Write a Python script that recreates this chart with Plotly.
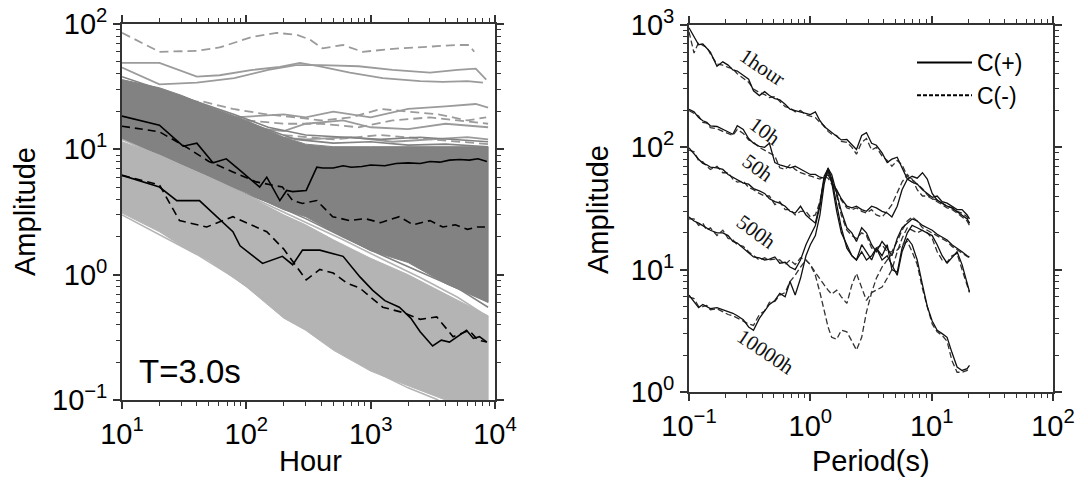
import plotly.graph_objects as go
import math

# ---------------- LEFT PANEL DATA (Hour vs Amplitude, T=3.0s) ----------------
band_hours = [10, 20, 30, 50, 100, 200, 300, 500, 1000, 2000, 4000, 8800]
dark_upper = [36, 31, 27, 22, 17, 12.5, 11, 10.5, 10.5, 10.5, 10.5, 10.5]
dark_lower = [12, 9, 7.3, 5.8, 4.5, 3.3, 2.9, 2.2, 1.55, 1.25, 0.85, 0.6]
light_upper = [11.5, 9, 7.5, 6, 4.3, 3.0, 2.5, 1.9, 1.35, 1.0, 0.7, 0.47]
light_lower = [3.1, 2.2, 1.7, 1.3, 0.8, 0.45, 0.36, 0.25, 0.17, 0.13, 0.1, 0.08]

dark_tex = [
    ([10, 20, 40, 80, 150, 300, 600, 1200, 2500, 5000, 8800], [38, 30, 24, 19, 15, 13, 12.5, 12, 12.5, 12, 11.5]),
    ([10, 25, 60, 120, 250, 500, 1000, 2000, 4000, 8800], [33, 26, 19, 15.5, 12, 11.2, 11.5, 10.8, 11, 10.5]),
    ([10, 30, 70, 150, 300, 600, 1200, 2500, 5000, 8800], [11, 7.0, 5.0, 3.8, 2.8, 2.0, 1.45, 1.05, 0.78, 0.55]),
]
light_tex = [
    ([10, 25, 60, 150, 300, 600, 1200, 2500, 5000, 8800], [12, 8, 5.5, 3.6, 2.6, 1.9, 1.35, 0.95, 0.66, 0.46]),
    ([10, 20, 40, 80, 150, 250, 400, 700, 1200, 2000, 3500], [3.0, 2.1, 1.45, 0.95, 0.6, 0.42, 0.3, 0.22, 0.16, 0.125, 0.1]),
    ([10, 18, 35, 70, 130, 230, 400], [3.3, 2.5, 1.8, 1.2, 0.75, 0.5, 0.36]),
]

sparse_solid = [
    ([10, 20, 40, 61, 112, 186, 270, 390, 680, 1250, 2500, 3800, 6000, 8000],
     [49, 49, 38, 39, 43, 45.5, 49, 46, 41, 37, 35, 34.5, 35, 34]),
    ([10, 20, 40, 80, 150, 250, 400, 800, 1500, 3000, 5000, 7000, 8500],
     [45, 33, 34, 37, 43, 47, 47, 46, 43, 41, 43, 44, 36]),
    ([10, 30, 80, 200, 300, 500, 1000, 2000, 4000, 7000, 8800],
     [30, 22, 18, 19, 18, 20, 18, 21, 22, 23, 21.5]),
    ([10, 30, 100, 200, 300, 600, 1000, 2000, 4000, 8800],
     [28, 20, 15, 14, 16, 17, 15, 14.5, 16, 15]),
    ([10, 40, 100, 300, 700, 1500, 3000, 6000, 8800],
     [26, 17, 13, 12, 12.5, 11.5, 12, 12.5, 12]),
]
sparse_dash = [
    ([10, 14, 20, 40, 61, 112, 175, 255, 325, 410, 600, 860, 1700, 3000, 4900, 6200, 6800],
     [85, 72, 60, 61, 65, 79, 85, 82, 75, 64, 68, 60, 64, 66, 68, 68, 60]),
    ([10, 15, 26, 45, 78, 146, 250, 400, 700, 1200, 2000, 3500, 6000, 8500],
     [32, 27, 24, 24, 21, 19, 18, 17, 18, 21, 20, 19, 17, 18]),
    ([100, 200, 400, 800, 1500, 3000, 5000, 8800], [17, 16, 16, 15, 17, 18, 17, 16]),
    ([200, 500, 1200, 3000, 8800], [13, 12, 13, 12, 11]),
]

blk1_solid_h = [10, 20, 31, 40, 54, 69, 89, 128, 146, 186, 211, 236, 303, 369, 412, 500, 600, 700, 850,
                1000, 1300, 1600, 2000, 2500, 3000, 3600, 4300, 5200, 6200, 7300, 8600]
blk1_solid_a = [18.4, 15.6, 10.6, 11.2, 7.8, 8.4, 6.8, 5.0, 6.0, 3.9, 4.7, 4.6, 4.7, 7.2, 7.1, 7.1, 7.4, 7.2, 7.3,
                7.5, 7.4, 7.7, 7.8, 7.7, 8.0, 7.9, 8.2, 8.3, 8.2, 8.4, 8.0]
blk1_dash_h = [10, 20, 33, 50, 78, 120, 195, 236, 283, 369, 495, 680, 900, 1200, 1700, 2200, 3000, 3800,
               4800, 6000, 7200, 8600]
blk1_dash_a = [15.3, 13.8, 10.4, 8.0, 6.6, 5.5, 5.0, 3.9, 3.7, 3.9, 2.9, 2.7, 2.8, 2.6, 2.9, 2.5, 2.7, 2.4,
               2.5, 2.3, 2.4, 2.4]
blk2_solid_h = [10, 20, 27.6, 42, 78, 89, 135, 195, 236, 283, 390, 600, 820, 1040, 1300, 1700, 2100, 2500,
                3150, 3700, 4300, 5200, 5900, 6700, 7500, 8600]
blk2_solid_a = [6.2, 5.0, 3.9, 3.9, 2.2, 1.7, 1.23, 1.4, 1.2, 1.57, 1.57, 1.4, 0.96, 0.75, 0.62, 0.55, 0.45,
                0.35, 0.27, 0.3, 0.29, 0.33, 0.36, 0.31, 0.32, 0.29]
blk2_dash_h = [10, 20, 29, 48, 78, 146, 200, 303, 390, 500, 640, 820, 1250, 1800, 2500, 3400, 4600, 5300,
               6200, 7300, 8600]
blk2_dash_a = [6.2, 5.2, 2.7, 2.4, 2.9, 2.2, 1.6, 0.91, 1.1, 1.03, 0.86, 0.78, 0.55, 0.5, 0.44, 0.46, 0.32,
               0.34, 0.36, 0.3, 0.29]

# ---------------- RIGHT PANEL DATA (Period vs Amplitude) ----------------
period = [0.10, 0.11, 0.12, 0.13, 0.14, 0.15,
          0.17, 0.19, 0.21, 0.23, 0.25,
          0.28, 0.31, 0.34, 0.38, 0.42,
          0.46, 0.51, 0.56, 0.62, 0.68,
          0.75, 0.83, 0.92, 1.0, 1.1,
          1.2, 1.3, 1.4, 1.5, 1.65,
          1.8, 2.0, 2.2, 2.4, 2.65,
          2.9, 3.2, 3.5, 3.9, 4.3,
          4.7, 5.2, 5.7, 6.3, 6.9,
          7.6, 8.4, 9.2, 10.1, 11.1,
          12.2, 13.4, 14.7, 16.2, 17.8,
          19.6, 20.5]

h1_plus = [950, 800, 690, 700, 640, 600,
           460, 500, 470, 430, 420,
           390, 360, 290, 265, 285,
           265, 250, 245, 225, 205,
           200, 195, 190, 185, 195,
           165, 148, 140, 132, 122,
           115, 116, 105, 96, 125,
           132, 108, 104, 90, 75,
           80, 83, 68, 55, 52,
           50, 45, 42, 39, 40,
           36, 35, 33, 31, 31,
           28, 26]
h1_minus = [880, 590, 720, 680, 660, 580,
            480, 470, 450, 440, 400,
            370, 340, 300, 280, 270,
            255, 260, 235, 215, 210,
            195, 200, 185, 180, 175,
            160, 150, 135, 128, 125,
            112, 110, 100, 88, 110,
            118, 95, 100, 85, 78,
            70, 78, 72, 58, 55,
            50, 46, 41, 38, 37,
            35, 33, 32, 30, 29,
            27, 24]
h10_plus = [205, 195, 175, 165, 160, 150,
            148, 140, 132, 128, 150,
            140, 118, 108, 102, 100,
            108, 75, 72, 70, 68,
            70, 66, 62, 60, 60,
            57, 56, 60, 52, 45,
            38, 33, 32, 33, 31,
            30, 33, 32, 30, 29,
            27, 33, 45, 55, 58,
            56, 62, 55, 42, 37,
            35, 33, 32, 30, 28,
            26, 24]
h10_minus = [200, 190, 180, 160, 158, 145,
             142, 135, 130, 125, 140,
             130, 115, 110, 100, 95,
             90, 85, 68, 66, 72,
             66, 62, 60, 58, 56,
             55, 58, 56, 50, 44,
             37, 32, 31, 32, 30,
             29, 31, 28, 27, 30,
             34, 42, 52, 60, 55,
             45, 40, 40, 38, 36,
             34, 32, 31, 29, 27,
             25, 23]
h50_plus = [99, 88, 80, 74, 72, 69,
            68, 66, 60, 57, 54,
            51, 50, 46, 44, 42,
            38, 36, 35, 33, 30,
            29, 33, 28, 26, 24,
            35, 58, 67, 60, 42,
            30, 22, 20, 17, 22,
            20, 16, 14, 17, 15,
            13, 18, 22, 24, 26,
            25, 23, 22, 21, 19.5,
            18.5, 17.5, 16, 15, 14,
            13, 12.7]
h50_minus = [95, 92, 78, 76, 70, 66,
             70, 62, 62, 55, 52,
             53, 47, 45, 42, 40,
             40, 34, 36, 31, 31,
             28, 30, 30, 27, 28,
             36, 55, 63, 57, 40,
             28, 21, 19, 18, 20,
             19, 15, 15, 16, 14,
             14, 17, 21, 25, 27,
             25, 22, 21, 20, 19,
             18, 17, 15.5, 14.5, 13.5,
             12.8, 12.5]
h500_plus = [27, 25, 24, 23, 22, 21,
             20, 20, 19, 17, 16.5,
             15, 13.7, 12.7, 12.5, 12.0,
             12.2, 12.7, 11.3, 11.5, 10.5,
             10, 12, 16, 19, 23,
             33, 55, 66, 52, 30,
             20, 16, 13, 12, 16,
             14, 12, 15, 13, 16,
             10, 9.5, 15, 20, 23,
             22, 21, 20, 19, 16,
             13, 11.3, 12.5, 14, 11,
             8, 6.6]
h500_minus = [26, 26, 23, 24, 21, 22,
              19, 21, 18, 17.5, 16,
              15.5, 14, 13, 12, 12.5,
              12, 12.2, 12, 11, 12,
              11, 12.5, 12, 11, 9.5,
              8.5, 7.5, 6.8, 6.3, 6.8,
              6.0, 5.3, 7.5, 9.3, 7.0,
              5.6, 6.5, 6.8, 7.2, 8.5,
              10, 14, 18, 22, 21,
              20, 21, 20, 18, 14,
              12, 11.5, 13, 13.5, 10,
              7.5, 6.5]
h10000_plus = [6.2, 5.5, 4.9, 5.2, 5.0, 4.8,
               4.9, 4.7, 4.5, 4.4, 4.2,
               3.9, 3.4, 3.2, 4.0, 4.6,
               5.2, 5.6, 6.4, 6.0, 8.0,
               6.2, 8.5, 13, 16, 19,
               28, 50, 68, 55, 35,
               22, 15, 13, 12, 14,
               12, 13, 15, 12, 13,
               11, 9, 14, 18, 16,
               12, 7.5, 5, 3.8, 3.2,
               3.0, 2.8, 2.1, 1.6, 1.5,
               1.55, 1.65]
h10000_minus = [6.0, 5.8, 5.0, 5.0, 5.1, 4.7,
                4.8, 4.5, 4.3, 4.2, 4.0,
                3.8, 3.6, 3.5, 4.3, 4.6,
                5.4, 5.5, 6.2, 6.5, 8.0,
                9.0, 10.5, 12, 11, 9,
                6.5, 4.5, 3.4, 2.8, 2.7,
                3.2, 3.1, 2.6, 2.2, 2.8,
                4.5, 6.5, 8.5, 10.5, 12,
                13.5, 14.5, 16, 17, 14,
                11, 7, 5, 3.6, 3.1,
                2.9, 2.6, 1.8, 1.45, 1.45,
                1.5, 1.6]

curve_labels = ["1hour", "10h", "50h", "500h", "10000h"]
label_period = [0.40, 0.42, 0.37, 0.36, 0.43]
label_amp = [454, 135, 68, 20.3, 2.12]
label_angle = [34, 36, 36, 36, 34]

left_ticks = [10, 100, 1000, 10000]
left_ticktext = ["10<sup>1</sup>", "10<sup>2</sup>", "10<sup>3</sup>", "10<sup>4</sup>"]
left_yticks = [0.1, 1, 10, 100]
left_yticktext = ["10<sup>−1</sup>", "10<sup>0</sup>", "10<sup>1</sup>", "10<sup>2</sup>"]
right_xticks = [0.1, 1, 10, 100]
right_xticktext = ["10<sup>−1</sup>", "10<sup>0</sup>", "10<sup>1</sup>", "10<sup>2</sup>"]
right_yticks = [1, 10, 100, 1000]
right_yticktext = ["10<sup>0</sup>", "10<sup>1</sup>", "10<sup>2</sup>", "10<sup>3</sup>"]

for arr in [h1_plus, h1_minus, h10_plus, h10_minus, h50_plus, h50_minus, h500_plus, h500_minus,
            h10000_plus, h10000_minus]:
    assert len(arr) == len(period), len(arr)

# ---------------- FIGURE ----------------
DARK = "rgb(130,130,130)"
LIGHT = "rgb(180,180,180)"
SPARSE = "rgb(155,155,155)"

fig = go.Figure()

def band(upper, lower, color):
    xs = band_hours + band_hours[::-1]
    ys = upper + lower[::-1]
    fig.add_trace(go.Scatter(x=xs, y=ys, mode="lines", fill="toself", fillcolor=color,
                             line=dict(color=color, width=1), xaxis="x", yaxis="y",
                             showlegend=False, hoverinfo="skip"))

# sparse outlier stations first (the dense bands cover their lower parts)
for hx, ay in sparse_solid:
    fig.add_trace(go.Scatter(x=hx, y=ay, mode="lines", line=dict(color=SPARSE, width=1.8),
                             xaxis="x", yaxis="y", showlegend=False))
for hx, ay in sparse_dash:
    fig.add_trace(go.Scatter(x=hx, y=ay, mode="lines", line=dict(color=SPARSE, width=1.8, dash="9px,5px"),
                             xaxis="x", yaxis="y", showlegend=False))

band(dark_upper, dark_lower, DARK)
for hx, ay in dark_tex:
    fig.add_trace(go.Scatter(x=hx, y=ay, mode="lines", line=dict(color=DARK, width=1.6),
                             xaxis="x", yaxis="y", showlegend=False))
band(light_upper, light_lower, LIGHT)
for hx, ay in light_tex:
    fig.add_trace(go.Scatter(x=hx, y=ay, mode="lines", line=dict(color=LIGHT, width=1.6),
                             xaxis="x", yaxis="y", showlegend=False))

for hx, ay, dsh in [(blk1_solid_h, blk1_solid_a, "solid"), (blk1_dash_h, blk1_dash_a, "8px,5px"),
                    (blk2_solid_h, blk2_solid_a, "solid"), (blk2_dash_h, blk2_dash_a, "8px,5px")]:
    fig.add_trace(go.Scatter(x=hx, y=ay, mode="lines", line=dict(color="black", width=1.6, dash=dsh),
                             xaxis="x", yaxis="y", showlegend=False))

pairs = [(h1_plus, h1_minus), (h10_plus, h10_minus), (h50_plus, h50_minus),
         (h500_plus, h500_minus), (h10000_plus, h10000_minus)]
for i, (p, m) in enumerate(pairs):
    fig.add_trace(go.Scatter(x=period, y=m, mode="lines", name="C(-)",
                             line=dict(color="#333333", width=1.3, dash="6px,3px"),
                             xaxis="x2", yaxis="y2", showlegend=False))
    fig.add_trace(go.Scatter(x=period, y=p, mode="lines", name="C(+)",
                             line=dict(color="#111111", width=1.3),
                             xaxis="x2", yaxis="y2", showlegend=False))

# legend entries
fig.add_trace(go.Scatter(x=[None], y=[None], mode="lines", name="C(+)",
                         line=dict(color="black", width=2), xaxis="x2", yaxis="y2"))
fig.add_trace(go.Scatter(x=[None], y=[None], mode="lines", name="C(-)",
                         line=dict(color="black", width=2, dash="4px,2px"), xaxis="x2", yaxis="y2"))

for txt, px, pa, ang in zip(curve_labels, label_period, label_amp, label_angle):
    fig.add_annotation(x=math.log10(px), y=math.log10(pa), xref="x2", yref="y2", text=txt,
                       showarrow=False, textangle=ang, xanchor="center", yanchor="middle",
                       font=dict(family="Liberation Serif", size=21, color="#111"))

fig.add_annotation(x=1.12, y=math.log10(0.17), xref="x", yref="y", text="T=3.0s", showarrow=False,
                   xanchor="left", yanchor="middle", font=dict(family="Liberation Sans", size=33, color="black"))

FONT = dict(family="Liberation Sans", size=29, color="black")

def axis_style(tickvals, ticktext, rng, domain, minor_vals, anchor):
    return dict(type="log", range=rng, domain=domain, anchor=anchor, automargin=False,
                tickmode="array", tickvals=tickvals, ticktext=ticktext,
                ticks="outside", ticklen=7, tickwidth=1.5, tickcolor="#333",
                showline=True, linecolor="#333", linewidth=1.6, mirror="ticks",
                showgrid=False, zeroline=False, tickfont=FONT,
                minor=dict(tickmode="array", tickvals=minor_vals, ticks="outside",
                           ticklen=4, tickwidth=1, tickcolor="#333", showgrid=False))

def minors(lo, hi):
    out = []
    for e in range(lo, hi):
        for k in range(2, 10):
            out.append(k * 10 ** e)
    return out

fig.update_layout(
    width=1088, height=480,
    margin=dict(l=0, r=0, t=0, b=0, autoexpand=False),
    paper_bgcolor="white", plot_bgcolor="white",
    font=FONT,
    xaxis=axis_style(left_ticks, left_ticktext, [1, 4], [122 / 1088, 495 / 1088], minors(1, 4), "y"),
    yaxis=axis_style(left_yticks, left_yticktext, [-1, 2], [1 - 400 / 480, 1 - 24 / 480], minors(-1, 2), "x"),
    xaxis2=axis_style(right_xticks, right_xticktext, [-1, 2], [689 / 1088, 1053 / 1088], minors(-1, 2), "y2"),
    yaxis2=axis_style(right_yticks, right_yticktext, [0, 3], [1 - 392 / 480, 1 - 25 / 480], minors(0, 3), "x2"),
    showlegend=True,
    legend=dict(x=912 / 1088, y=1 - 41 / 480, xanchor="left", yanchor="top", itemwidth=55,
                font=dict(family="Liberation Sans", size=23, color="black"),
                bgcolor="rgba(0,0,0,0)", tracegroupgap=0),
)

fig.add_annotation(x=25 / 1088, y=1 - 212 / 480, xref="paper", yref="paper", text="Amplitude",
                   textangle=-90, showarrow=False, font=FONT, xanchor="center", yanchor="middle")
fig.add_annotation(x=598 / 1088, y=1 - 210 / 480, xref="paper", yref="paper", text="Amplitude",
                   textangle=-90, showarrow=False, font=FONT, xanchor="center", yanchor="middle")
fig.add_annotation(x=310 / 1088, y=1 - 461 / 480, xref="paper", yref="paper", text="Hour",
                   showarrow=False, font=FONT, xanchor="center", yanchor="middle")
fig.add_annotation(x=871 / 1088, y=1 - 461 / 480, xref="paper", yref="paper", text="Period(s)",
                   showarrow=False, font=FONT, xanchor="center", yanchor="middle")

fig.write_html("out.html")
